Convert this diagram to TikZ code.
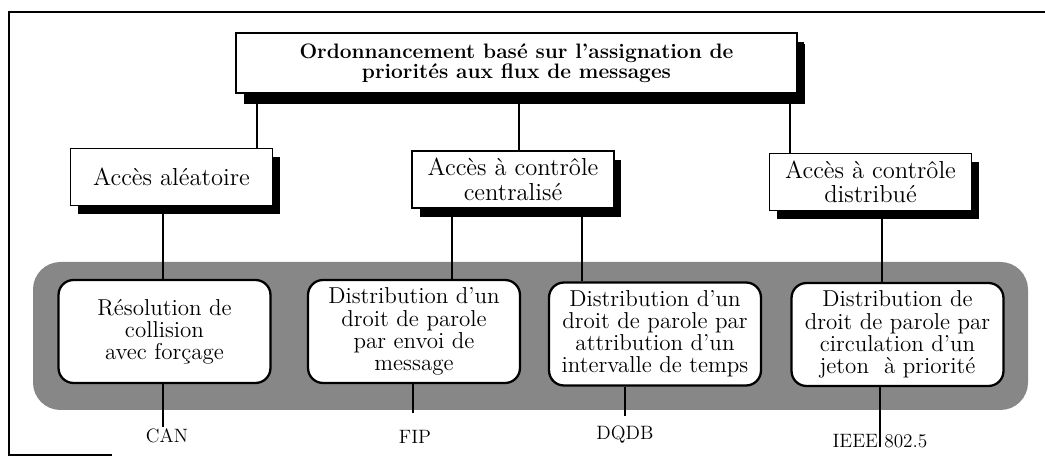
\documentclass[tikz,border=0pt]{standalone}
\usepackage{fontspec}
\usetikzlibrary{shadows}
\begin{document}
\begin{tikzpicture}[
    x = 0.02cm, y = -0.02cm,
    heavy/.style = {draw, line width = 1pt, fill = white, align = center, inner sep = 0pt,
      drop shadow = {shadow xshift = 0.15cm, shadow yshift = -0.18cm, fill = black, opacity = 1}},
    family/.style = {heavy, minimum width = 4.04cm, minimum height = 1.14cm,
      font = \fontsize{14}{14}\selectfont},
    method/.style = {draw, line width = 1.3pt, fill = white, rounded corners = 0.3cm,
      align = center, inner sep = 0pt, minimum width = 4.24cm, minimum height = 2.06cm,
      font = \fontsize{13.1}{12.6}\selectfont},
    bus/.style = {font = \fontsize{11}{12}\selectfont, inner sep = 1pt},
    link/.style = {line width = 0.6pt}
  ]
  \useasboundingbox (0, 0) rectangle (1045, 462);
  % frame and band
  \draw[line width = 0.8pt] (112, 455) -- (9, 455) -- (9, 12) -- (1045, 12);
  \fill[black!47, rounded corners = 0.55cm] (33, 262) rectangle (1028, 410);
  % nodes
  \node[heavy, minimum width = 11.22cm, minimum height = 1.2cm,
    drop shadow = {shadow xshift = 0.16cm, shadow yshift = -0.22cm, fill = black, opacity = 1},
    font = \bfseries\fontsize{11.9}{11.5}\selectfont] (top) at (516.5, 63)
    {Ordonnancement basé sur l'assignation de\\priorités aux flux de messages};
  \node[family] (alea)  at (171.5, 177)   {Accès aléatoire};
  \node[family] (centr) at (513,   179.5) {Accès à contrôle\\centralisé};
  \node[family] (distr) at (870.5, 182)   {Accès à contrôle\\distribué};
  \node[method] (forcage) at (164.5, 331.5) {Résolution de\\collision\\avec forçage};
  \node[method] (envoi)   at (414,   331.5) {Distribution d'un\\droit de parole\\par envoi de\\message};
  \node[method] (slot)    at (655,   334)   {Distribution d'un\\droit de parole par\\attribution d'un\\intervalle de temps};
  \node[method] (jeton)   at (897.5, 334.5) {Distribution de\\droit de parole par\\circulation d'un\\jeton\ \ à priorité};
  \node[bus] (can)  at (167, 436) {CAN};
  \node[bus] (fip)  at (415, 437) {FIP};
  \node[bus] (dqdb) at (625, 435) {DQDB};
  \node[bus] (ieee) at (880, 441) {IEEE 802.5};
  % links between the levels
  \draw[link] (top.south -| 257, 0) -- (alea.north -| 257, 0);
  \draw[link] (top.south -| 519, 0) -- (centr.north -| 519, 0);
  \draw[link] (top.south -| 790, 0) -- (distr.north -| 790, 0);
  \draw[link] (alea.south -| 163, 0)  -- (forcage.north -| 163, 0);
  \draw[link] (centr.south -| 452, 0) -- (envoi.north -| 452, 0);
  \draw[link] (centr.south -| 582, 0) -- (slot.north -| 582, 0);
  \draw[link] (distr.south -| 882, 0) -- (jeton.north -| 882, 0);
  % links to the networks
  \draw[link] (forcage.south -| 163, 0) -- (can.north -| 163, 0);
  \draw[link, shorten >= 0.3cm] (envoi.south -| 413, 0) -- (fip.north -| 413, 0);
  \draw[link, shorten >= 0.16cm] (slot.south -| 625, 0) -- (dqdb.north -| 625, 0);
  \draw[link, shorten >= -0.3cm] (jeton.south -| 880, 0) -- (ieee.north -| 880, 0);
\end{tikzpicture}
\end{document}
